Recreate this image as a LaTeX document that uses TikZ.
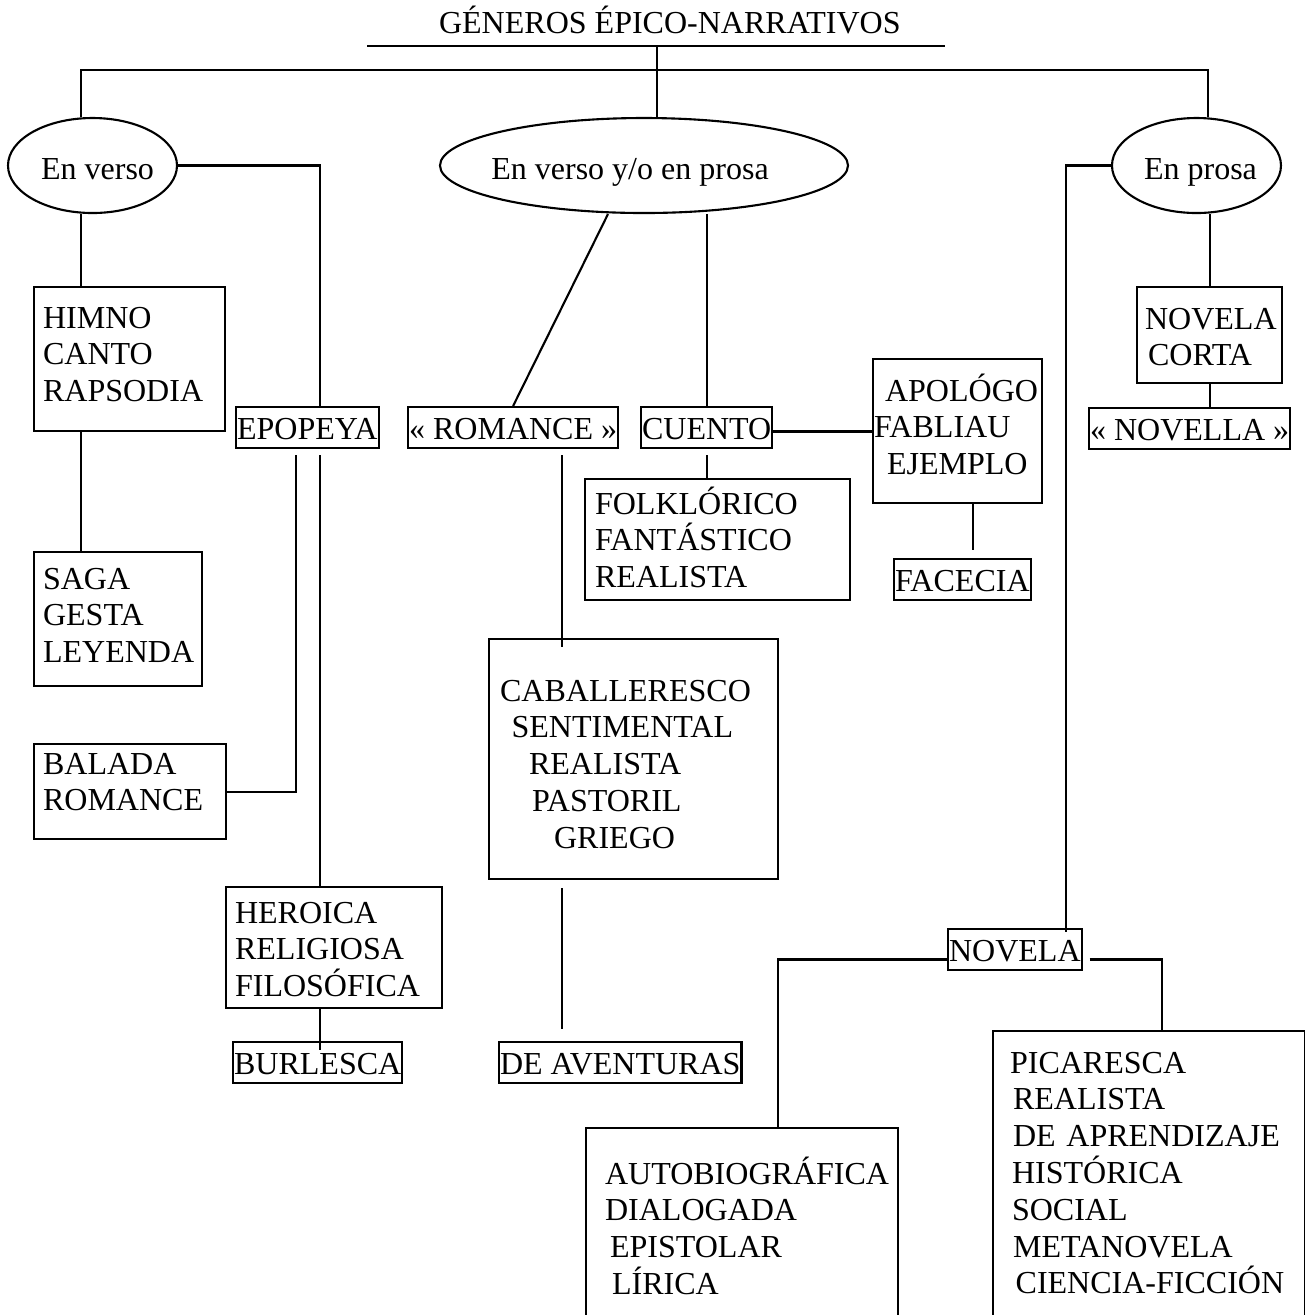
\documentclass[tikz,border=0pt]{standalone}
\usepackage{fontspec}
\setmainfont{Liberation Serif}
\usetikzlibrary{shapes.geometric}
\begin{document}
\begin{tikzpicture}[
    font=\fontsize{9.11pt}{10.47pt}\selectfont,
    line width=0.6pt,
    oval/.style={draw, ellipse, minimum height=0.95cm, inner sep=0pt, text height=0.28cm, text depth=0pt},
    tag/.style={draw, anchor=base west, inner xsep=0.01cm, inner ysep=0pt, text height=0.32cm, text depth=0.09cm},
    lbox/.style={draw, anchor=north west, align=left, inner ysep=0pt}
  ]
  \useasboundingbox (0,0) rectangle (13.05,-13.15);
  \fill[white] (0,0) rectangle (13.05,-13.15);
  \clip (0,0) rectangle (13.05,-13.15);

  % title and trunk
  \node[anchor=base west, inner sep=0pt] (title) at (4.38,-0.33) {GÉNEROS ÉPICO-NARRATIVOS};
  \coordinate (ulL) at (3.67,-0.46);
  \coordinate (ulR) at (9.45,-0.46);
  \coordinate (root) at (6.57,-0.46);
  \coordinate (barL) at (0.81,-0.70);
  \coordinate (barR) at (12.08,-0.70);

  \node[oval, minimum width=1.69cm] (ev) at (0.925,-1.655) {En verso\hspace*{-0.1cm}};
  \node[oval, minimum width=4.08cm] (yo) at (6.44,-1.655) {\hspace*{-0.28cm}En verso y/o en prosa};
  \node[oval, minimum width=1.69cm] (ep) at (11.965,-1.655) {En prosa\hspace*{-0.08cm}};

  % en verso
  \node[lbox, inner xsep=0.09cm, text width=1.73cm, text height=0.41cm, text depth=1.03cm] (himno) at (0.33,-2.86) {HIMNO\\CANTO\\RAPSODIA};
  \node[lbox, inner xsep=0.09cm, text width=1.50cm, text height=0.37cm, text depth=0.97cm] (saga) at (0.33,-5.51) {SAGA\\GESTA\\LEYENDA};
  \node[lbox, inner xsep=0.09cm, text width=1.74cm, text height=0.30cm, text depth=0.65cm] (balada) at (0.33,-7.43) {BALADA\\ROMANCE};
  \node[lbox, inner xsep=0.09cm, text width=1.98cm, text height=0.36cm, text depth=0.85cm] (heroica) at (2.25,-8.86) {HEROICA\\RELIGIOSA\\FILOSÓFICA};
  \node[tag] (epopeya) at (2.35,-4.39) {EPOPEYA};
  \node[tag] (burlesca) at (2.32,-10.74) {BURLESCA};

  % en verso y/o en prosa
  \node[tag] (romance) at (4.07,-4.39) {« ROMANCE »};
  \node[tag] (cuento) at (6.40,-4.39) {CUENTO};
  \node[lbox, inner xsep=0.10cm, text width=2.45cm, text height=0.35cm, text depth=0.86cm] (folk) at (5.84,-4.78) {FOLKLÓRICO\\FANTÁSTICO\\REALISTA};
  \node[lbox, inner xsep=0.01cm, text width=1.67cm, text height=0.42cm, text depth=1.02cm] (apologo) at (8.72,-3.58) {\hspace*{0.11cm}APOLÓGO\\FABLIAU\\\hspace*{0.13cm}EJEMPLO};
  \node[tag] (facecia) at (8.93,-5.91) {FACECIA};
  \node[lbox, inner xsep=0.11cm, text width=2.67cm, text height=0.62cm, text depth=1.78cm] (caball) at (4.88,-6.38) {CABALLERESCO\\\hspace*{0.115cm}SENTIMENTAL\\\hspace*{0.29cm}REALISTA\\\hspace*{0.32cm}PASTORIL\\\hspace*{0.54cm}GRIEGO};
  \node[tag] (aventuras) at (4.98,-10.74) {DE AVENTURAS\hspace{0.08cm}};

  % en prosa
  \node[lbox, inner xsep=0.08cm, text width=1.29cm, text height=0.42cm, text depth=0.54cm] (novcorta) at (11.36,-2.86) {NOVELA\\\hspace*{0.03cm}CORTA};
  \node[tag] (novella) at (10.88,-4.40) {« NOVELLA »};
  \node[tag] (novela) at (9.47,-9.61) {NOVELA};
  \node[lbox, inner xsep=0.19cm, text width=2.74cm, text height=0.56cm, text depth=1.80cm] (autobio) at (5.85,-11.27) {AUTOBIOGRÁFICA\\DIALOGADA\\\hspace*{0.05cm}EPISTOLAR\\\hspace*{0.07cm}LÍRICA};
  \node[lbox, inner xsep=0.17cm, text width=2.78cm, text height=0.42cm, text depth=3.00cm] (picaresca) at (9.92,-10.30) {PICARESCA\\\hspace*{0.03cm}REALISTA\\\hspace*{0.03cm}DE APRENDIZAJE\\\hspace*{0.02cm}HISTÓRICA\\\hspace*{0.02cm}SOCIAL\\\hspace*{0.03cm}METANOVELA\\\hspace*{0.056cm}CIENCIA-FICCIÓN};

  % connectors
  \draw (ulL) -- (ulR);
  \draw (root) -- (root |- yo.north);
  \draw (ev.north -| barL) -- (barL) -- (barR) -- (ep.north -| barR);

  \draw (ev.east) -| ([xshift=0.13cm]epopeya.north);
  \draw (ev.south -| barL) -- (himno.north -| barL);
  \draw (himno.south -| barL) -- (saga.north -| barL);
  \draw (balada.east) -| ([xshift=-0.11cm,yshift=-0.06cm]epopeya.south);
  \draw ([xshift=0.13cm,yshift=-0.06cm]epopeya.south) coordinate (epoR) -- (epoR |- heroica.north);
  \draw (heroica.south -| epoR) -- ([yshift=-0.09cm]burlesca.north -| epoR);

  \draw ([xshift=-0.36cm]yo.south) -- (romance.north);
  \draw (cuento.north |- yo.south) -- (cuento.north);
  \draw ([yshift=-0.04cm]cuento.east) -- ([yshift=-0.04cm]cuento.east -| apologo.west);
  \draw ([yshift=-0.06cm]cuento.south) -- (cuento.south |- folk.north);
  \draw ([xshift=0.15cm]apologo.south) coordinate (apoF) -- ([yshift=0.08cm]facecia.north -| apoF);
  \draw ([xshift=0.49cm,yshift=-0.06cm]romance.south) coordinate (romC) -- ([yshift=-0.09cm]caball.north -| romC);
  \draw ([yshift=-0.08cm]caball.south -| romC) -- ([yshift=0.12cm]aventuras.north -| romC);

  \draw (novcorta.north |- ep.south) -- (novcorta.north);
  \draw (novcorta.south) -- (novcorta.south |- novella.north);
  \draw (ep.west) -| ([xshift=0.51cm,yshift=-0.04cm]novela.north);
  \draw ([yshift=-0.1cm]novela.west) -| ([xshift=0.36cm]autobio.north);
  \draw ([xshift=0.07cm,yshift=-0.1cm]novela.east) -| ([xshift=0.13cm]picaresca.north);
\end{tikzpicture}
\end{document}
